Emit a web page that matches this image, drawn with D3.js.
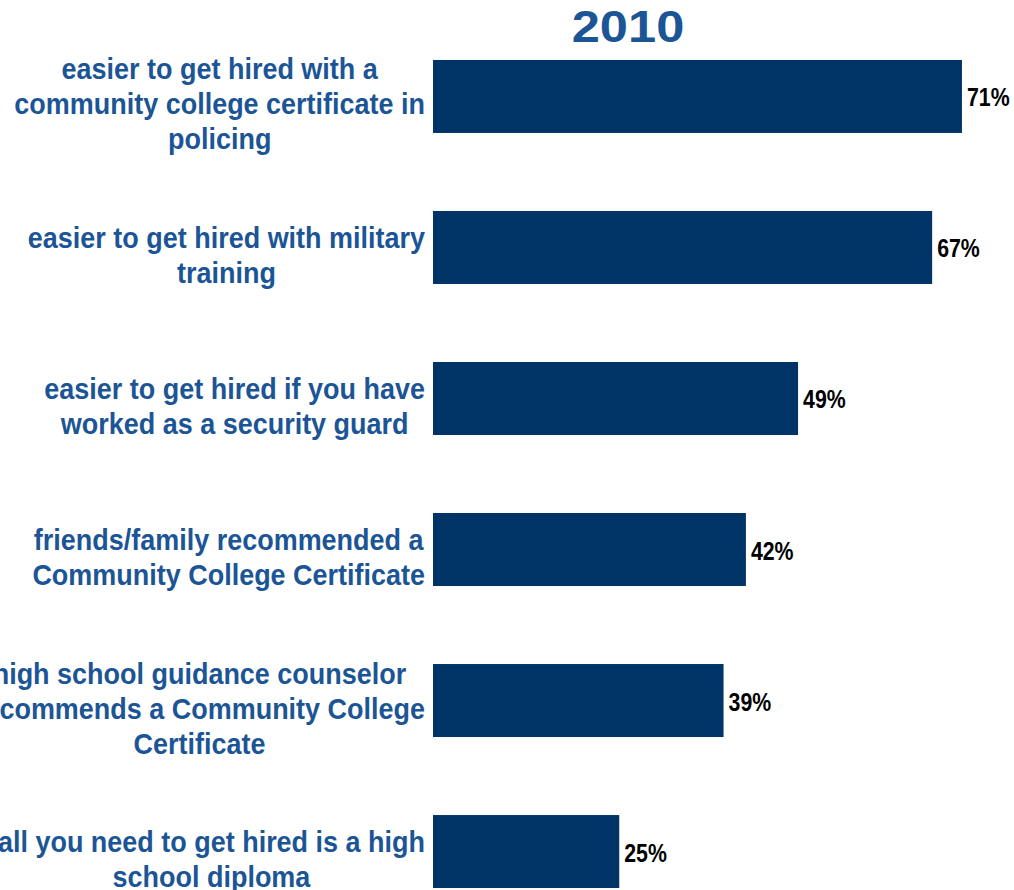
<!DOCTYPE html>
<html>
<head>
<meta charset="utf-8">
<script src="https://cdn.jsdelivr.net/npm/d3@7"></script>
<style>
  html, body { margin: 0; padding: 0; background: #ffffff; overflow: hidden; }
  svg { display: block; }
</style>
</head>
<body>
<svg id="chart" width="1014" height="890"></svg>
<script>
// Survey year shown as the chart heading
const chartTitle = "2010";

// Category labels, already broken into display lines
const categories = [
  ["easier to get hired with a", "community college certificate in", "policing"],
  ["easier to get hired with military", "training"],
  ["easier to get hired if you have", "worked as a security guard"],
  ["friends/family recommended a", "Community College Certificate"],
  ["high school guidance counselor", "recommends a Community College", "Certificate"],
  ["all you need to get hired is a high", "school diploma"]
];

// Share of respondents agreeing (percent)
const values = [71, 67, 49, 42, 39, 25];

const svg = d3.select("#chart");

const barColor = "#003366";
const labelColor = "#1c5596";

const x = d3.scaleLinear().domain([0, 100]).range([433, 433 + 745]);

const y = d3.scaleBand()
  .domain(d3.range(categories.length))
  .range([21, 927])
  .paddingInner(0.5166)
  .paddingOuter(0.258);

// Title
svg.append("text")
  .attr("transform", `translate(628,42) scale(1.15,1)`)
  .attr("text-anchor", "middle")
  .attr("font-family", "'Liberation Sans', Arial, sans-serif")
  .attr("font-weight", "bold")
  .attr("font-size", 44)
  .attr("fill", labelColor)
  .text(chartTitle);

// Bars
svg.append("g").selectAll("rect")
  .data(values)
  .join("rect")
  .attr("x", x(0))
  .attr("y", (d, i) => y(i))
  .attr("width", d => x(d) - x(0))
  .attr("height", y.bandwidth())
  .attr("fill", barColor);

// Value labels (narrow bold)
svg.append("g").selectAll("text")
  .data(values)
  .join("text")
  .attr("transform", (d, i) => `translate(${x(d) + 5},${y(i) + y.bandwidth() / 2 + 10}) scale(0.82,1)`)
  .attr("font-family", "'Liberation Sans', Arial, sans-serif")
  .attr("font-weight", "bold")
  .attr("font-size", 26)
  .attr("fill", "#000000")
  .text(d => d + "%");

// Category labels: each block's widest line ends near the axis, lines centred
const lineH = 35;
const labelRight = 425;
const squeeze = 0.93;
const labelGroup = svg.append("g")
  .attr("font-family", "'Liberation Sans', Arial, sans-serif")
  .attr("font-weight", "bold")
  .attr("font-size", 29)
  .attr("fill", labelColor);

categories.forEach((lines, i) => {
  const cy = y(i) + y.bandwidth() / 2 + 8;
  const t = labelGroup.append("text").attr("text-anchor", "middle");
  const spans = lines.map((ln, k) =>
    t.append("tspan")
      .attr("x", 0)
      .attr("y", (k - (lines.length - 1) / 2) * lineH + 10)
      .text(ln)
  );
  const maxW = d3.max(spans, s => s.node().getComputedTextLength()) * squeeze;
  t.attr("transform", `translate(${labelRight - maxW / 2},${cy}) scale(${squeeze},1)`);
});
</script>
</body>
</html>
